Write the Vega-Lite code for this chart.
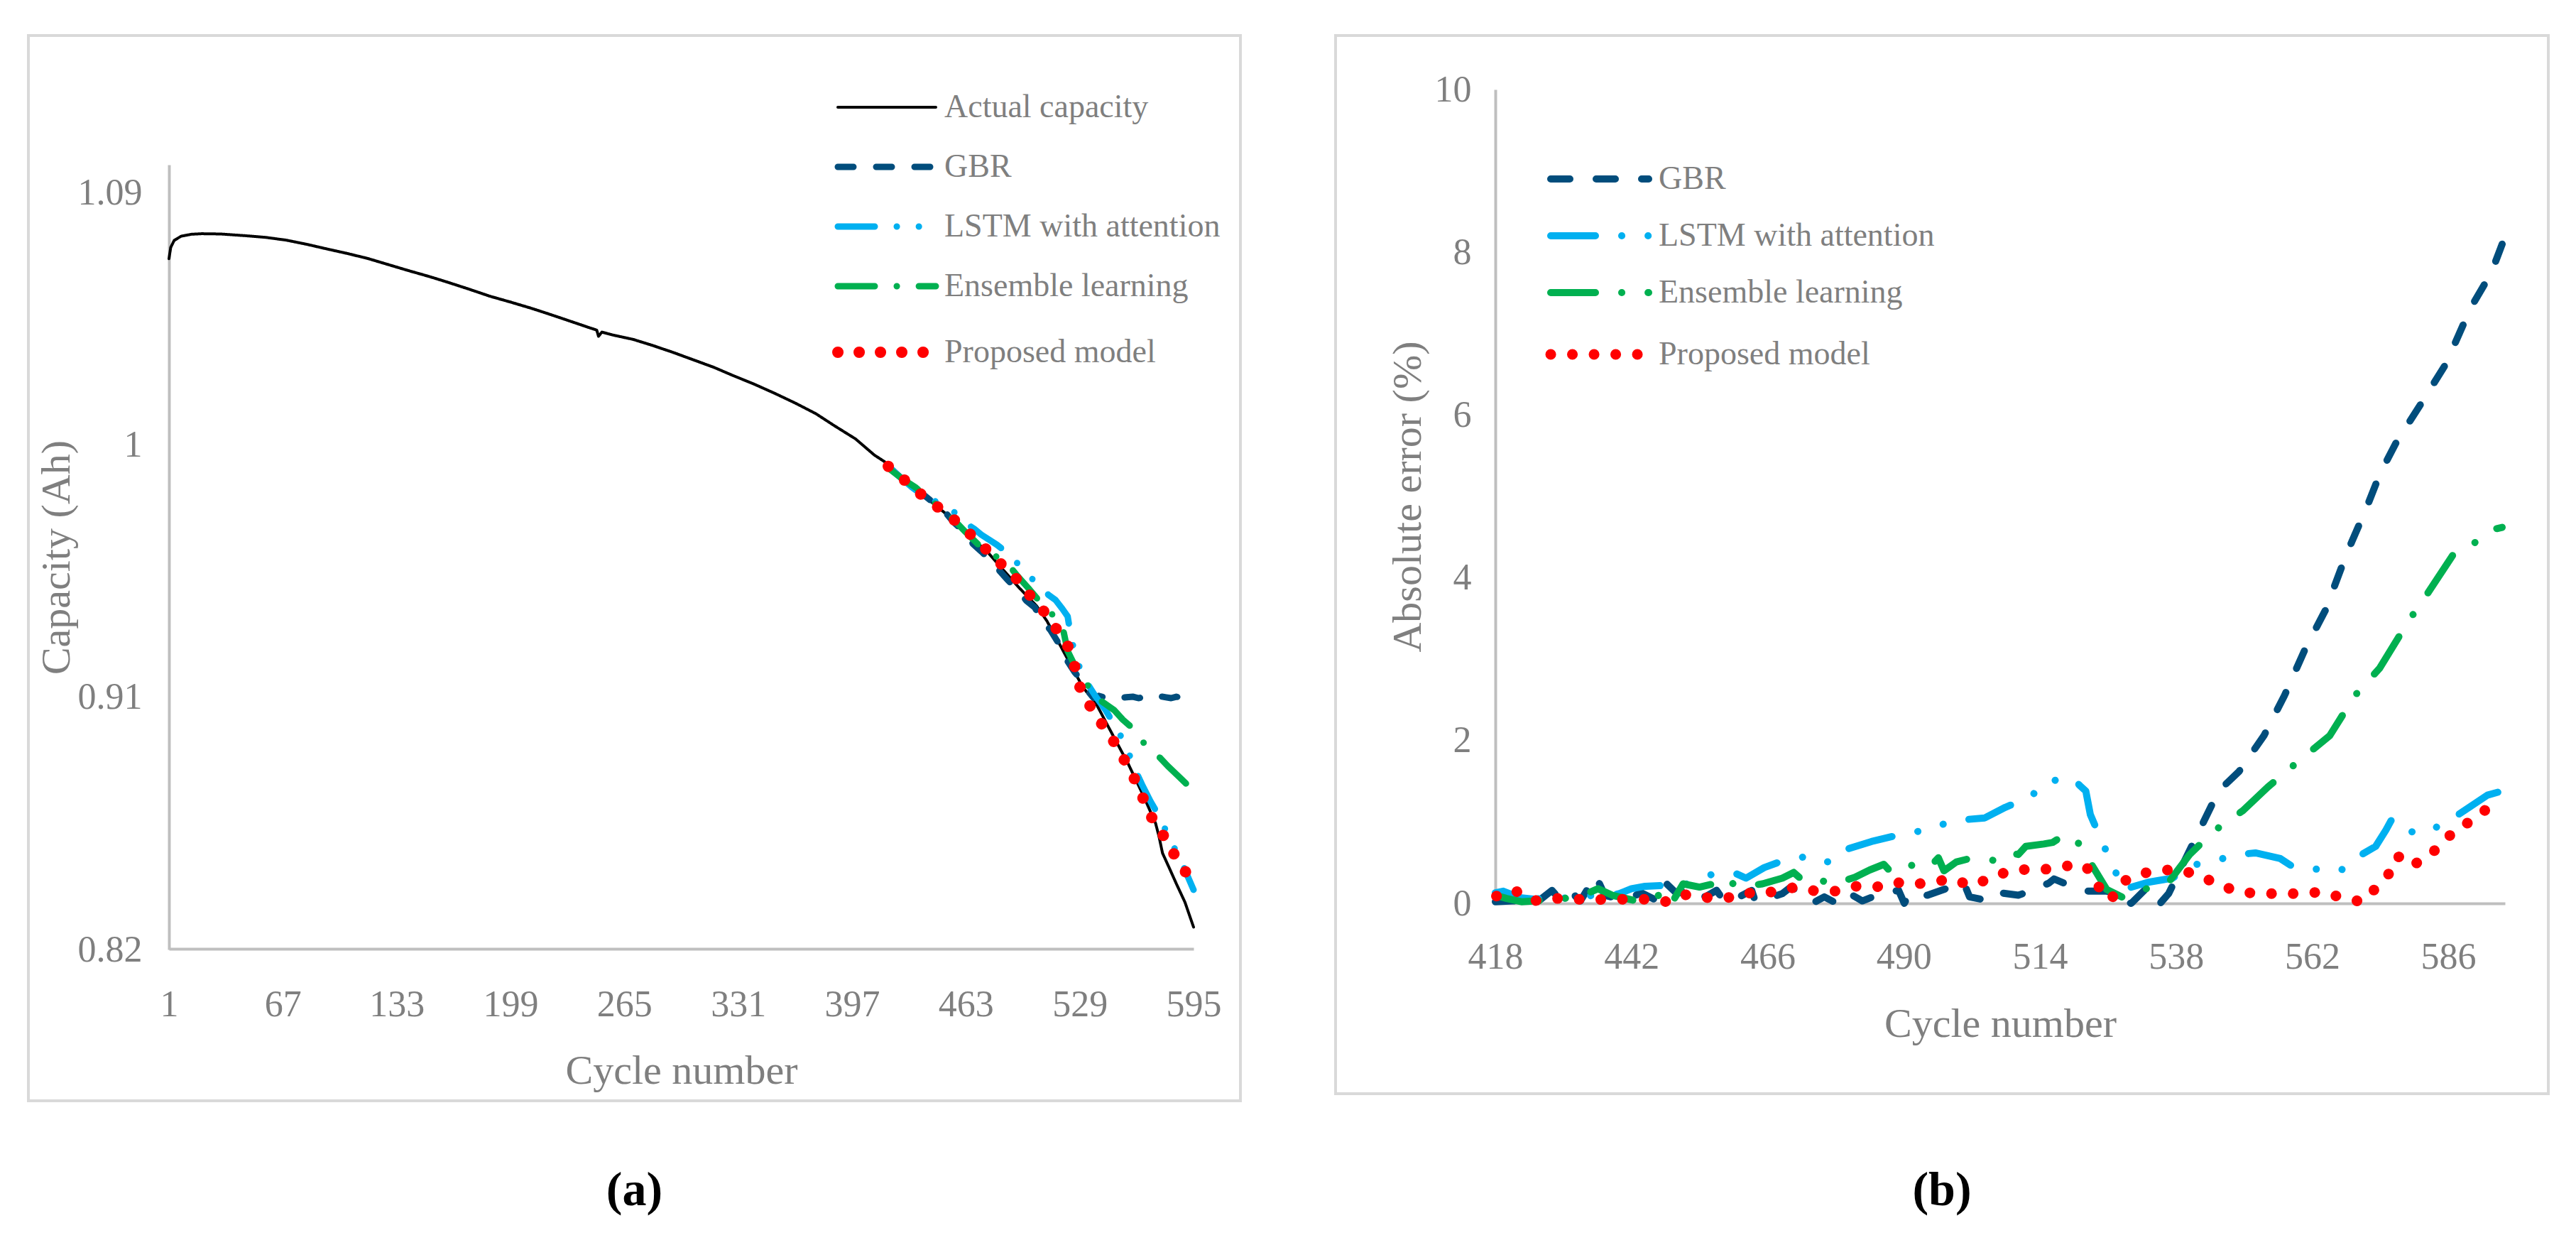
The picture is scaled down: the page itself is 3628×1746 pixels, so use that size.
{
  "$schema": "https://vega.github.io/schema/vega-lite/v6.json",
  "background": "white",
  "padding": {"left": 38, "top": 48, "right": 0, "bottom": 0},
  "config": {
    "font": "Liberation Serif",
    "view": {"stroke": "#d9d9d9", "strokeWidth": 4},
    "axis": {
      "grid": false, "ticks": false, "tickSize": 0,
      "domainColor": "#bfbfbf", "domainWidth": 4,
      "labelFont": "Liberation Serif", "labelFontSize": 52, "labelColor": "#7f7f7f",
      "titleFont": "Liberation Serif", "titleFontSize": 58, "titleColor": "#7f7f7f", "titleFontWeight": "normal"
    },
    "legend": {
      "orient": "none", "padding": 0, "symbolType": "stroke",
      "labelFont": "Liberation Serif", "labelFontSize": 46, "labelColor": "#7f7f7f", "labelLimit": 600
    },
    "title": {"font": "Liberation Serif", "fontSize": 68, "fontWeight": "bold", "color": "#000000"}
  },
  "datasets": {
    "capacity": [
      {"cycle": 1, "series": "Actual capacity", "capacity": 1.0665},
      {"cycle": 2, "series": "Actual capacity", "capacity": 1.0705},
      {"cycle": 4, "series": "Actual capacity", "capacity": 1.0730},
      {"cycle": 8, "series": "Actual capacity", "capacity": 1.0745},
      {"cycle": 14, "series": "Actual capacity", "capacity": 1.0752},
      {"cycle": 20, "series": "Actual capacity", "capacity": 1.0754},
      {"cycle": 31, "series": "Actual capacity", "capacity": 1.0753},
      {"cycle": 45, "series": "Actual capacity", "capacity": 1.0747},
      {"cycle": 57, "series": "Actual capacity", "capacity": 1.0741},
      {"cycle": 69, "series": "Actual capacity", "capacity": 1.0731},
      {"cycle": 81, "series": "Actual capacity", "capacity": 1.0716},
      {"cycle": 93, "series": "Actual capacity", "capacity": 1.0699},
      {"cycle": 104, "series": "Actual capacity", "capacity": 1.0684},
      {"cycle": 116, "series": "Actual capacity", "capacity": 1.0666},
      {"cycle": 128, "series": "Actual capacity", "capacity": 1.0644},
      {"cycle": 140, "series": "Actual capacity", "capacity": 1.0622},
      {"cycle": 152, "series": "Actual capacity", "capacity": 1.0601},
      {"cycle": 163, "series": "Actual capacity", "capacity": 1.0580},
      {"cycle": 175, "series": "Actual capacity", "capacity": 1.0556},
      {"cycle": 187, "series": "Actual capacity", "capacity": 1.0531},
      {"cycle": 199, "series": "Actual capacity", "capacity": 1.0510},
      {"cycle": 211, "series": "Actual capacity", "capacity": 1.0488},
      {"cycle": 222, "series": "Actual capacity", "capacity": 1.0466},
      {"cycle": 234, "series": "Actual capacity", "capacity": 1.0441},
      {"cycle": 245, "series": "Actual capacity", "capacity": 1.0418},
      {"cycle": 249, "series": "Actual capacity", "capacity": 1.0410},
      {"cycle": 250, "series": "Actual capacity", "capacity": 1.0388},
      {"cycle": 252, "series": "Actual capacity", "capacity": 1.0403},
      {"cycle": 258, "series": "Actual capacity", "capacity": 1.0393},
      {"cycle": 270, "series": "Actual capacity", "capacity": 1.0377},
      {"cycle": 281, "series": "Actual capacity", "capacity": 1.0356},
      {"cycle": 293, "series": "Actual capacity", "capacity": 1.0331},
      {"cycle": 305, "series": "Actual capacity", "capacity": 1.0304},
      {"cycle": 317, "series": "Actual capacity", "capacity": 1.0277},
      {"cycle": 328, "series": "Actual capacity", "capacity": 1.0248},
      {"cycle": 340, "series": "Actual capacity", "capacity": 1.0218},
      {"cycle": 352, "series": "Actual capacity", "capacity": 1.0185},
      {"cycle": 364, "series": "Actual capacity", "capacity": 1.0150},
      {"cycle": 376, "series": "Actual capacity", "capacity": 1.0112},
      {"cycle": 387, "series": "Actual capacity", "capacity": 1.0068},
      {"cycle": 399, "series": "Actual capacity", "capacity": 1.0022},
      {"cycle": 410, "series": "Actual capacity", "capacity": 0.9964},
      {"cycle": 416, "series": "Actual capacity", "capacity": 0.9940},
      {"cycle": 420, "series": "Actual capacity", "capacity": 0.9915},
      {"cycle": 430, "series": "Actual capacity", "capacity": 0.9862},
      {"cycle": 440, "series": "Actual capacity", "capacity": 0.9812},
      {"cycle": 450, "series": "Actual capacity", "capacity": 0.9762},
      {"cycle": 460, "series": "Actual capacity", "capacity": 0.9708},
      {"cycle": 467, "series": "Actual capacity", "capacity": 0.9666},
      {"cycle": 476, "series": "Actual capacity", "capacity": 0.9615},
      {"cycle": 485, "series": "Actual capacity", "capacity": 0.9552},
      {"cycle": 494, "series": "Actual capacity", "capacity": 0.9490},
      {"cycle": 504, "series": "Actual capacity", "capacity": 0.9426},
      {"cycle": 510, "series": "Actual capacity", "capacity": 0.9372},
      {"cycle": 515, "series": "Actual capacity", "capacity": 0.9316},
      {"cycle": 522, "series": "Actual capacity", "capacity": 0.9236},
      {"cycle": 531, "series": "Actual capacity", "capacity": 0.9134},
      {"cycle": 538, "series": "Actual capacity", "capacity": 0.9083},
      {"cycle": 548, "series": "Actual capacity", "capacity": 0.8967},
      {"cycle": 557, "series": "Actual capacity", "capacity": 0.8864},
      {"cycle": 566, "series": "Actual capacity", "capacity": 0.8748},
      {"cycle": 573, "series": "Actual capacity", "capacity": 0.8650},
      {"cycle": 575, "series": "Actual capacity", "capacity": 0.8602},
      {"cycle": 577, "series": "Actual capacity", "capacity": 0.8544},
      {"cycle": 581, "series": "Actual capacity", "capacity": 0.8490},
      {"cycle": 585, "series": "Actual capacity", "capacity": 0.8435},
      {"cycle": 590, "series": "Actual capacity", "capacity": 0.8369},
      {"cycle": 595, "series": "Actual capacity", "capacity": 0.8280},

      {"cycle": 418, "series": "GBR", "capacity": 0.9925},
      {"cycle": 425, "series": "GBR", "capacity": 0.9885},
      {"cycle": 432, "series": "GBR", "capacity": 0.9848},
      {"cycle": 437, "series": "GBR", "capacity": 0.9830},
      {"cycle": 444, "series": "GBR", "capacity": 0.9795},
      {"cycle": 450, "series": "GBR", "capacity": 0.9768},
      {"cycle": 456, "series": "GBR", "capacity": 0.9724},
      {"cycle": 462, "series": "GBR", "capacity": 0.9690},
      {"cycle": 467, "series": "GBR", "capacity": 0.9648},
      {"cycle": 472, "series": "GBR", "capacity": 0.9620},
      {"cycle": 477, "series": "GBR", "capacity": 0.9590},
      {"cycle": 482, "series": "GBR", "capacity": 0.9555},
      {"cycle": 487, "series": "GBR", "capacity": 0.9520},
      {"cycle": 492, "series": "GBR", "capacity": 0.9490},
      {"cycle": 498, "series": "GBR", "capacity": 0.9445},
      {"cycle": 503, "series": "GBR", "capacity": 0.9420},
      {"cycle": 507, "series": "GBR", "capacity": 0.9374},
      {"cycle": 512, "series": "GBR", "capacity": 0.9340},
      {"cycle": 516, "series": "GBR", "capacity": 0.9300},
      {"cycle": 519, "series": "GBR", "capacity": 0.9270},
      {"cycle": 522, "series": "GBR", "capacity": 0.9228},
      {"cycle": 526, "series": "GBR", "capacity": 0.9190},
      {"cycle": 530, "series": "GBR", "capacity": 0.9160},
      {"cycle": 534, "series": "GBR", "capacity": 0.9120},
      {"cycle": 537, "series": "GBR", "capacity": 0.9098},
      {"cycle": 540, "series": "GBR", "capacity": 0.9105},
      {"cycle": 543, "series": "GBR", "capacity": 0.9100},
      {"cycle": 545, "series": "GBR", "capacity": 0.9095},
      {"cycle": 548, "series": "GBR", "capacity": 0.9100},
      {"cycle": 552, "series": "GBR", "capacity": 0.9098},
      {"cycle": 556, "series": "GBR", "capacity": 0.9100},
      {"cycle": 560, "series": "GBR", "capacity": 0.9102},
      {"cycle": 563, "series": "GBR", "capacity": 0.9097},
      {"cycle": 566, "series": "GBR", "capacity": 0.9100},
      {"cycle": 570, "series": "GBR", "capacity": 0.9105},
      {"cycle": 573, "series": "GBR", "capacity": 0.9098},
      {"cycle": 576, "series": "GBR", "capacity": 0.9103},
      {"cycle": 579, "series": "GBR", "capacity": 0.9100},
      {"cycle": 582, "series": "GBR", "capacity": 0.9097},
      {"cycle": 585, "series": "GBR", "capacity": 0.9102},
      {"cycle": 588, "series": "GBR", "capacity": 0.9098},
      {"cycle": 591, "series": "GBR", "capacity": 0.9100},
      {"cycle": 595, "series": "GBR", "capacity": 0.9097},

      {"cycle": 418, "series": "LSTM with attention", "capacity": 0.9924},
      {"cycle": 425, "series": "LSTM with attention", "capacity": 0.9885},
      {"cycle": 432, "series": "LSTM with attention", "capacity": 0.9848},
      {"cycle": 438, "series": "LSTM with attention", "capacity": 0.9822},
      {"cycle": 444, "series": "LSTM with attention", "capacity": 0.9804},
      {"cycle": 450, "series": "LSTM with attention", "capacity": 0.9782},
      {"cycle": 455, "series": "LSTM with attention", "capacity": 0.9768},
      {"cycle": 460, "series": "LSTM with attention", "capacity": 0.9738},
      {"cycle": 463, "series": "LSTM with attention", "capacity": 0.9721},
      {"cycle": 468, "series": "LSTM with attention", "capacity": 0.9700},
      {"cycle": 472, "series": "LSTM with attention", "capacity": 0.9680},
      {"cycle": 477, "series": "LSTM with attention", "capacity": 0.9660},
      {"cycle": 481, "series": "LSTM with attention", "capacity": 0.9644},
      {"cycle": 486, "series": "LSTM with attention", "capacity": 0.9620},
      {"cycle": 490, "series": "LSTM with attention", "capacity": 0.9596},
      {"cycle": 495, "series": "LSTM with attention", "capacity": 0.9565},
      {"cycle": 499, "series": "LSTM with attention", "capacity": 0.9539},
      {"cycle": 503, "series": "LSTM with attention", "capacity": 0.9512},
      {"cycle": 507, "series": "LSTM with attention", "capacity": 0.9487},
      {"cycle": 511, "series": "LSTM with attention", "capacity": 0.9465},
      {"cycle": 515, "series": "LSTM with attention", "capacity": 0.9447},
      {"cycle": 519, "series": "LSTM with attention", "capacity": 0.9415},
      {"cycle": 522, "series": "LSTM with attention", "capacity": 0.9389},
      {"cycle": 524, "series": "LSTM with attention", "capacity": 0.9313},
      {"cycle": 527, "series": "LSTM with attention", "capacity": 0.9236},
      {"cycle": 532, "series": "LSTM with attention", "capacity": 0.9163},
      {"cycle": 538, "series": "LSTM with attention", "capacity": 0.9105},
      {"cycle": 544, "series": "LSTM with attention", "capacity": 0.9054},
      {"cycle": 550, "series": "LSTM with attention", "capacity": 0.8993},
      {"cycle": 556, "series": "LSTM with attention", "capacity": 0.8926},
      {"cycle": 560, "series": "LSTM with attention", "capacity": 0.8857},
      {"cycle": 565, "series": "LSTM with attention", "capacity": 0.8790},
      {"cycle": 570, "series": "LSTM with attention", "capacity": 0.8729},
      {"cycle": 576, "series": "LSTM with attention", "capacity": 0.8665},
      {"cycle": 581, "series": "LSTM with attention", "capacity": 0.8595},
      {"cycle": 587, "series": "LSTM with attention", "capacity": 0.8526},
      {"cycle": 591, "series": "LSTM with attention", "capacity": 0.8470},
      {"cycle": 595, "series": "LSTM with attention", "capacity": 0.8413},

      {"cycle": 418, "series": "Ensemble learning", "capacity": 0.9918},
      {"cycle": 426, "series": "Ensemble learning", "capacity": 0.9880},
      {"cycle": 434, "series": "Ensemble learning", "capacity": 0.9848},
      {"cycle": 440, "series": "Ensemble learning", "capacity": 0.9815},
      {"cycle": 447, "series": "Ensemble learning", "capacity": 0.9782},
      {"cycle": 454, "series": "Ensemble learning", "capacity": 0.9746},
      {"cycle": 462, "series": "Ensemble learning", "capacity": 0.9695},
      {"cycle": 470, "series": "Ensemble learning", "capacity": 0.9646},
      {"cycle": 478, "series": "Ensemble learning", "capacity": 0.9612},
      {"cycle": 487, "series": "Ensemble learning", "capacity": 0.9578},
      {"cycle": 493, "series": "Ensemble learning", "capacity": 0.9532},
      {"cycle": 500, "series": "Ensemble learning", "capacity": 0.9484},
      {"cycle": 506, "series": "Ensemble learning", "capacity": 0.9440},
      {"cycle": 513, "series": "Ensemble learning", "capacity": 0.9396},
      {"cycle": 519, "series": "Ensemble learning", "capacity": 0.9353},
      {"cycle": 522, "series": "Ensemble learning", "capacity": 0.9265},
      {"cycle": 526, "series": "Ensemble learning", "capacity": 0.9215},
      {"cycle": 531, "series": "Ensemble learning", "capacity": 0.9171},
      {"cycle": 537, "series": "Ensemble learning", "capacity": 0.9105},
      {"cycle": 543, "series": "Ensemble learning", "capacity": 0.9080},
      {"cycle": 549, "series": "Ensemble learning", "capacity": 0.9054},
      {"cycle": 554, "series": "Ensemble learning", "capacity": 0.9020},
      {"cycle": 560, "series": "Ensemble learning", "capacity": 0.8988},
      {"cycle": 567, "series": "Ensemble learning", "capacity": 0.8930},
      {"cycle": 574, "series": "Ensemble learning", "capacity": 0.8894},
      {"cycle": 580, "series": "Ensemble learning", "capacity": 0.8855},
      {"cycle": 587, "series": "Ensemble learning", "capacity": 0.8814},
      {"cycle": 591, "series": "Ensemble learning", "capacity": 0.8790},
      {"cycle": 595, "series": "Ensemble learning", "capacity": 0.8770},

      {"cycle": 418, "series": "Proposed model", "capacity": 0.9924},
      {"cycle": 427, "series": "Proposed model", "capacity": 0.9877},
      {"cycle": 436, "series": "Proposed model", "capacity": 0.9829},
      {"cycle": 446, "series": "Proposed model", "capacity": 0.9782},
      {"cycle": 456, "series": "Proposed model", "capacity": 0.9734},
      {"cycle": 465, "series": "Proposed model", "capacity": 0.9685},
      {"cycle": 474, "series": "Proposed model", "capacity": 0.9632},
      {"cycle": 483, "series": "Proposed model", "capacity": 0.9578},
      {"cycle": 492, "series": "Proposed model", "capacity": 0.9525},
      {"cycle": 500, "series": "Proposed model", "capacity": 0.9465},
      {"cycle": 508, "series": "Proposed model", "capacity": 0.9408},
      {"cycle": 515, "series": "Proposed model", "capacity": 0.9348},
      {"cycle": 522, "series": "Proposed model", "capacity": 0.9284},
      {"cycle": 526, "series": "Proposed model", "capacity": 0.9211},
      {"cycle": 529, "series": "Proposed model", "capacity": 0.9138},
      {"cycle": 535, "series": "Proposed model", "capacity": 0.9069},
      {"cycle": 542, "series": "Proposed model", "capacity": 0.9003},
      {"cycle": 549, "series": "Proposed model", "capacity": 0.8940},
      {"cycle": 555, "series": "Proposed model", "capacity": 0.8875},
      {"cycle": 561, "series": "Proposed model", "capacity": 0.8806},
      {"cycle": 566, "series": "Proposed model", "capacity": 0.8736},
      {"cycle": 571, "series": "Proposed model", "capacity": 0.8668},
      {"cycle": 578, "series": "Proposed model", "capacity": 0.8602},
      {"cycle": 584, "series": "Proposed model", "capacity": 0.8537},
      {"cycle": 591, "series": "Proposed model", "capacity": 0.8471},
      {"cycle": 595, "series": "Proposed model", "capacity": 0.8430}
    ],
    "error": [
      {"cycle": 418, "series": "GBR", "error": 0.02},
      {"cycle": 421, "series": "GBR", "error": 0.03},
      {"cycle": 424, "series": "GBR", "error": 0.04},
      {"cycle": 426, "series": "GBR", "error": 0.05},
      {"cycle": 428, "series": "GBR", "error": 0.16},
      {"cycle": 429.5, "series": "GBR", "error": 0.04},
      {"cycle": 431.5, "series": "GBR", "error": 0.13},
      {"cycle": 433, "series": "GBR", "error": 0.03},
      {"cycle": 435.7, "series": "GBR", "error": 0.34},
      {"cycle": 437.3, "series": "GBR", "error": 0.10},
      {"cycle": 439.5, "series": "GBR", "error": 0.06},
      {"cycle": 441.8, "series": "GBR", "error": 0.07},
      {"cycle": 443.7, "series": "GBR", "error": 0.13},
      {"cycle": 446.9, "series": "GBR", "error": 0.02},
      {"cycle": 448.2, "series": "GBR", "error": 0.24},
      {"cycle": 450, "series": "GBR", "error": 0.12},
      {"cycle": 453, "series": "GBR", "error": 0.19},
      {"cycle": 455, "series": "GBR", "error": 0.08},
      {"cycle": 457, "series": "GBR", "error": 0.16},
      {"cycle": 458.4, "series": "GBR", "error": 0.02},
      {"cycle": 461, "series": "GBR", "error": 0.08},
      {"cycle": 463.2, "series": "GBR", "error": 0.16},
      {"cycle": 463.8, "series": "GBR", "error": 0.03},
      {"cycle": 466, "series": "GBR", "error": 0.06},
      {"cycle": 468.6, "series": "GBR", "error": 0.12},
      {"cycle": 469.9, "series": "GBR", "error": 0.19},
      {"cycle": 472.8, "series": "GBR", "error": 0.13},
      {"cycle": 474.4, "series": "GBR", "error": 0.02},
      {"cycle": 476, "series": "GBR", "error": 0.08},
      {"cycle": 478.2, "series": "GBR", "error": 0.00},
      {"cycle": 480.2, "series": "GBR", "error": 0.13},
      {"cycle": 482.7, "series": "GBR", "error": 0.03},
      {"cycle": 485.3, "series": "GBR", "error": 0.10},
      {"cycle": 489.1, "series": "GBR", "error": 0.16},
      {"cycle": 490.1, "series": "GBR", "error": 0.00},
      {"cycle": 491, "series": "GBR", "error": 0.12},
      {"cycle": 494.2, "series": "GBR", "error": 0.10},
      {"cycle": 497.4, "series": "GBR", "error": 0.18},
      {"cycle": 500.6, "series": "GBR", "error": 0.25},
      {"cycle": 501.6, "series": "GBR", "error": 0.08},
      {"cycle": 505.1, "series": "GBR", "error": 0.03},
      {"cycle": 507, "series": "GBR", "error": 0.13},
      {"cycle": 510.2, "series": "GBR", "error": 0.10},
      {"cycle": 512.7, "series": "GBR", "error": 0.16},
      {"cycle": 515.6, "series": "GBR", "error": 0.25},
      {"cycle": 516.5, "series": "GBR", "error": 0.30},
      {"cycle": 519.9, "series": "GBR", "error": 0.20},
      {"cycle": 522, "series": "GBR", "error": 0.15},
      {"cycle": 525.8, "series": "GBR", "error": 0.15},
      {"cycle": 528, "series": "GBR", "error": 0.05},
      {"cycle": 530.1, "series": "GBR", "error": 0.00},
      {"cycle": 533, "series": "GBR", "error": 0.20},
      {"cycle": 535.2, "series": "GBR", "error": 0.00},
      {"cycle": 536.7, "series": "GBR", "error": 0.12},
      {"cycle": 540.4, "series": "GBR", "error": 0.65},
      {"cycle": 545.5, "series": "GBR", "error": 1.38},
      {"cycle": 549.1, "series": "GBR", "error": 1.62},
      {"cycle": 553.5, "series": "GBR", "error": 2.06},
      {"cycle": 557.1, "series": "GBR", "error": 2.55},
      {"cycle": 560.8, "series": "GBR", "error": 3.13},
      {"cycle": 564.4, "series": "GBR", "error": 3.61},
      {"cycle": 568.1, "series": "GBR", "error": 4.30},
      {"cycle": 571.7, "series": "GBR", "error": 4.88},
      {"cycle": 573.9, "series": "GBR", "error": 5.27},
      {"cycle": 576.8, "series": "GBR", "error": 5.66},
      {"cycle": 581.2, "series": "GBR", "error": 6.14},
      {"cycle": 585.6, "series": "GBR", "error": 6.63},
      {"cycle": 589.9, "series": "GBR", "error": 7.31},
      {"cycle": 593.6, "series": "GBR", "error": 7.75},
      {"cycle": 595.5, "series": "GBR", "error": 8.10},

      {"cycle": 418, "series": "LSTM with attention", "error": 0.13},
      {"cycle": 419.4, "series": "LSTM with attention", "error": 0.15},
      {"cycle": 422.3, "series": "LSTM with attention", "error": 0.07},
      {"cycle": 425, "series": "LSTM with attention", "error": 0.05},
      {"cycle": 428, "series": "LSTM with attention", "error": 0.08},
      {"cycle": 431, "series": "LSTM with attention", "error": 0.06},
      {"cycle": 434, "series": "LSTM with attention", "error": 0.10},
      {"cycle": 437, "series": "LSTM with attention", "error": 0.08},
      {"cycle": 439.9, "series": "LSTM with attention", "error": 0.12},
      {"cycle": 442, "series": "LSTM with attention", "error": 0.18},
      {"cycle": 444.4, "series": "LSTM with attention", "error": 0.21},
      {"cycle": 448, "series": "LSTM with attention", "error": 0.22},
      {"cycle": 452, "series": "LSTM with attention", "error": 0.24},
      {"cycle": 455.9, "series": "LSTM with attention", "error": 0.35},
      {"cycle": 458.4, "series": "LSTM with attention", "error": 0.38},
      {"cycle": 460.3, "series": "LSTM with attention", "error": 0.37},
      {"cycle": 462.2, "series": "LSTM with attention", "error": 0.31},
      {"cycle": 465.4, "series": "LSTM with attention", "error": 0.44},
      {"cycle": 469.3, "series": "LSTM with attention", "error": 0.54},
      {"cycle": 473.4, "series": "LSTM with attention", "error": 0.58},
      {"cycle": 475.7, "series": "LSTM with attention", "error": 0.51},
      {"cycle": 477.6, "series": "LSTM with attention", "error": 0.51},
      {"cycle": 480.2, "series": "LSTM with attention", "error": 0.67},
      {"cycle": 484.3, "series": "LSTM with attention", "error": 0.76},
      {"cycle": 488.5, "series": "LSTM with attention", "error": 0.83},
      {"cycle": 492.3, "series": "LSTM with attention", "error": 0.88},
      {"cycle": 494.8, "series": "LSTM with attention", "error": 0.93},
      {"cycle": 499.3, "series": "LSTM with attention", "error": 1.02},
      {"cycle": 504.3, "series": "LSTM with attention", "error": 1.05},
      {"cycle": 507.9, "series": "LSTM with attention", "error": 1.18},
      {"cycle": 512.1, "series": "LSTM with attention", "error": 1.30},
      {"cycle": 515.9, "series": "LSTM with attention", "error": 1.52},
      {"cycle": 518, "series": "LSTM with attention", "error": 1.50},
      {"cycle": 519.9, "series": "LSTM with attention", "error": 1.53},
      {"cycle": 521, "series": "LSTM with attention", "error": 1.45},
      {"cycle": 522.1, "series": "LSTM with attention", "error": 1.38},
      {"cycle": 522.9, "series": "LSTM with attention", "error": 1.09},
      {"cycle": 525, "series": "LSTM with attention", "error": 0.75},
      {"cycle": 527.2, "series": "LSTM with attention", "error": 0.41},
      {"cycle": 528.7, "series": "LSTM with attention", "error": 0.17},
      {"cycle": 533.1, "series": "LSTM with attention", "error": 0.26},
      {"cycle": 537.4, "series": "LSTM with attention", "error": 0.31},
      {"cycle": 540.4, "series": "LSTM with attention", "error": 0.46},
      {"cycle": 546.2, "series": "LSTM with attention", "error": 0.55},
      {"cycle": 549, "series": "LSTM with attention", "error": 0.60},
      {"cycle": 552, "series": "LSTM with attention", "error": 0.62},
      {"cycle": 556.4, "series": "LSTM with attention", "error": 0.55},
      {"cycle": 558.6, "series": "LSTM with attention", "error": 0.45},
      {"cycle": 562, "series": "LSTM with attention", "error": 0.42},
      {"cycle": 565, "series": "LSTM with attention", "error": 0.42},
      {"cycle": 567, "series": "LSTM with attention", "error": 0.40},
      {"cycle": 569.5, "series": "LSTM with attention", "error": 0.55},
      {"cycle": 573.2, "series": "LSTM with attention", "error": 0.70},
      {"cycle": 575, "series": "LSTM with attention", "error": 0.90},
      {"cycle": 576.1, "series": "LSTM with attention", "error": 1.04},
      {"cycle": 577.5, "series": "LSTM with attention", "error": 0.95},
      {"cycle": 579, "series": "LSTM with attention", "error": 0.89},
      {"cycle": 581.2, "series": "LSTM with attention", "error": 0.85},
      {"cycle": 585.6, "series": "LSTM with attention", "error": 0.99},
      {"cycle": 589.9, "series": "LSTM with attention", "error": 1.19},
      {"cycle": 592.9, "series": "LSTM with attention", "error": 1.33},
      {"cycle": 595.5, "series": "LSTM with attention", "error": 1.38},

      {"cycle": 418, "series": "Ensemble learning", "error": 0.10},
      {"cycle": 420, "series": "Ensemble learning", "error": 0.06},
      {"cycle": 422.6, "series": "Ensemble learning", "error": 0.02},
      {"cycle": 425, "series": "Ensemble learning", "error": 0.03},
      {"cycle": 429.3, "series": "Ensemble learning", "error": 0.05},
      {"cycle": 433.5, "series": "Ensemble learning", "error": 0.10},
      {"cycle": 436.1, "series": "Ensemble learning", "error": 0.18},
      {"cycle": 438.6, "series": "Ensemble learning", "error": 0.10},
      {"cycle": 442.8, "series": "Ensemble learning", "error": 0.03},
      {"cycle": 446.9, "series": "Ensemble learning", "error": 0.10},
      {"cycle": 448.2, "series": "Ensemble learning", "error": 0.19},
      {"cycle": 449.5, "series": "Ensemble learning", "error": 0.05},
      {"cycle": 451.1, "series": "Ensemble learning", "error": 0.24},
      {"cycle": 454, "series": "Ensemble learning", "error": 0.20},
      {"cycle": 456.5, "series": "Ensemble learning", "error": 0.24},
      {"cycle": 457.1, "series": "Ensemble learning", "error": 0.29},
      {"cycle": 458.4, "series": "Ensemble learning", "error": 0.22},
      {"cycle": 460.3, "series": "Ensemble learning", "error": 0.25},
      {"cycle": 462.2, "series": "Ensemble learning", "error": 0.21},
      {"cycle": 465.1, "series": "Ensemble learning", "error": 0.24},
      {"cycle": 468.6, "series": "Ensemble learning", "error": 0.31},
      {"cycle": 470.6, "series": "Ensemble learning", "error": 0.38},
      {"cycle": 472.2, "series": "Ensemble learning", "error": 0.28},
      {"cycle": 473.8, "series": "Ensemble learning", "error": 0.31},
      {"cycle": 477.6, "series": "Ensemble learning", "error": 0.24},
      {"cycle": 481.4, "series": "Ensemble learning", "error": 0.32},
      {"cycle": 484, "series": "Ensemble learning", "error": 0.41},
      {"cycle": 486.5, "series": "Ensemble learning", "error": 0.48},
      {"cycle": 487.8, "series": "Ensemble learning", "error": 0.38},
      {"cycle": 491, "series": "Ensemble learning", "error": 0.47},
      {"cycle": 494.5, "series": "Ensemble learning", "error": 0.44},
      {"cycle": 496.1, "series": "Ensemble learning", "error": 0.56},
      {"cycle": 497.1, "series": "Ensemble learning", "error": 0.40},
      {"cycle": 499.3, "series": "Ensemble learning", "error": 0.51},
      {"cycle": 501.6, "series": "Ensemble learning", "error": 0.55},
      {"cycle": 505.7, "series": "Ensemble learning", "error": 0.53},
      {"cycle": 508.3, "series": "Ensemble learning", "error": 0.63},
      {"cycle": 510.2, "series": "Ensemble learning", "error": 0.60},
      {"cycle": 511.5, "series": "Ensemble learning", "error": 0.70},
      {"cycle": 514.7, "series": "Ensemble learning", "error": 0.73},
      {"cycle": 516.3, "series": "Ensemble learning", "error": 0.75},
      {"cycle": 518.5, "series": "Ensemble learning", "error": 0.85},
      {"cycle": 520.7, "series": "Ensemble learning", "error": 0.75},
      {"cycle": 522.9, "series": "Ensemble learning", "error": 0.50},
      {"cycle": 525.8, "series": "Ensemble learning", "error": 0.17},
      {"cycle": 528.7, "series": "Ensemble learning", "error": 0.07},
      {"cycle": 532.3, "series": "Ensemble learning", "error": 0.17},
      {"cycle": 536.7, "series": "Ensemble learning", "error": 0.26},
      {"cycle": 540.4, "series": "Ensemble learning", "error": 0.60},
      {"cycle": 544.7, "series": "Ensemble learning", "error": 0.89},
      {"cycle": 549.8, "series": "Ensemble learning", "error": 1.14},
      {"cycle": 554.2, "series": "Ensemble learning", "error": 1.43},
      {"cycle": 560, "series": "Ensemble learning", "error": 1.77},
      {"cycle": 565.1, "series": "Ensemble learning", "error": 2.06},
      {"cycle": 569.5, "series": "Ensemble learning", "error": 2.55},
      {"cycle": 573.9, "series": "Ensemble learning", "error": 2.89},
      {"cycle": 579, "series": "Ensemble learning", "error": 3.47},
      {"cycle": 581.9, "series": "Ensemble learning", "error": 3.76},
      {"cycle": 587, "series": "Ensemble learning", "error": 4.30},
      {"cycle": 589.9, "series": "Ensemble learning", "error": 4.39},
      {"cycle": 593.6, "series": "Ensemble learning", "error": 4.59},
      {"cycle": 595.5, "series": "Ensemble learning", "error": 4.62},

      {"cycle": 418.2, "series": "Proposed model", "error": 0.09},
      {"cycle": 421.4, "series": "Proposed model", "error": 0.16},
      {"cycle": 424.6, "series": "Proposed model", "error": 0.03},
      {"cycle": 427.6, "series": "Proposed model", "error": 0.06},
      {"cycle": 430.9, "series": "Proposed model", "error": 0.06},
      {"cycle": 434.5, "series": "Proposed model", "error": 0.04},
      {"cycle": 437.3, "series": "Proposed model", "error": 0.05},
      {"cycle": 440.7, "series": "Proposed model", "error": 0.05},
      {"cycle": 444.4, "series": "Proposed model", "error": 0.05},
      {"cycle": 447.9, "series": "Proposed model", "error": 0.02},
      {"cycle": 451.1, "series": "Proposed model", "error": 0.11},
      {"cycle": 453.9, "series": "Proposed model", "error": 0.08},
      {"cycle": 457.1, "series": "Proposed model", "error": 0.06},
      {"cycle": 460.3, "series": "Proposed model", "error": 0.08},
      {"cycle": 462.3, "series": "Proposed model", "error": 0.13},
      {"cycle": 465.1, "series": "Proposed model", "error": 0.11},
      {"cycle": 468.1, "series": "Proposed model", "error": 0.17},
      {"cycle": 471.3, "series": "Proposed model", "error": 0.20},
      {"cycle": 474.5, "series": "Proposed model", "error": 0.15},
      {"cycle": 477.9, "series": "Proposed model", "error": 0.15},
      {"cycle": 481.6, "series": "Proposed model", "error": 0.21},
      {"cycle": 485.1, "series": "Proposed model", "error": 0.20},
      {"cycle": 488.5, "series": "Proposed model", "error": 0.26},
      {"cycle": 491.3, "series": "Proposed model", "error": 0.23},
      {"cycle": 494.8, "series": "Proposed model", "error": 0.26},
      {"cycle": 498.4, "series": "Proposed model", "error": 0.30},
      {"cycle": 501.9, "series": "Proposed model", "error": 0.22},
      {"cycle": 505.4, "series": "Proposed model", "error": 0.31},
      {"cycle": 508.6, "series": "Proposed model", "error": 0.40},
      {"cycle": 512.1, "series": "Proposed model", "error": 0.42},
      {"cycle": 515.6, "series": "Proposed model", "error": 0.42},
      {"cycle": 518.5, "series": "Proposed model", "error": 0.46},
      {"cycle": 522.1, "series": "Proposed model", "error": 0.46},
      {"cycle": 524.3, "series": "Proposed model", "error": 0.21},
      {"cycle": 526.5, "series": "Proposed model", "error": 0.04},
      {"cycle": 528.4, "series": "Proposed model", "error": 0.26},
      {"cycle": 531.6, "series": "Proposed model", "error": 0.36},
      {"cycle": 535.2, "series": "Proposed model", "error": 0.41},
      {"cycle": 538.9, "series": "Proposed model", "error": 0.41},
      {"cycle": 542.5, "series": "Proposed model", "error": 0.33},
      {"cycle": 545.5, "series": "Proposed model", "error": 0.23},
      {"cycle": 549.1, "series": "Proposed model", "error": 0.14},
      {"cycle": 552.7, "series": "Proposed model", "error": 0.12},
      {"cycle": 556.4, "series": "Proposed model", "error": 0.12},
      {"cycle": 560, "series": "Proposed model", "error": 0.12},
      {"cycle": 563.7, "series": "Proposed model", "error": 0.14},
      {"cycle": 567.3, "series": "Proposed model", "error": 0.07},
      {"cycle": 570.7, "series": "Proposed model", "error": 0.02},
      {"cycle": 573.6, "series": "Proposed model", "error": 0.21},
      {"cycle": 576.1, "series": "Proposed model", "error": 0.41},
      {"cycle": 577.1, "series": "Proposed model", "error": 0.58},
      {"cycle": 579.4, "series": "Proposed model", "error": 0.46},
      {"cycle": 581.9, "series": "Proposed model", "error": 0.55},
      {"cycle": 584.8, "series": "Proposed model", "error": 0.72},
      {"cycle": 587, "series": "Proposed model", "error": 0.89},
      {"cycle": 590.7, "series": "Proposed model", "error": 1.04},
      {"cycle": 593.6, "series": "Proposed model", "error": 1.21},
      {"cycle": 595.5, "series": "Proposed model", "error": 1.25}
    ]
  },
  "spacing": 134,
  "bounds": "flush",
  "resolve": {
    "scale": {"x": "independent", "y": "independent", "color": "independent", "strokeDash": "independent"},
    "legend": {"color": "independent", "strokeDash": "independent"}
  },
  "hconcat": [
    {
      "width": 1707,
      "height": 1500,
      "data": {"name": "capacity"},
      "title": {"text": "(a)", "orient": "bottom", "anchor": "middle", "baseline": "middle", "offset": 127},
      "mark": {"type": "line", "strokeCap": "round", "strokeJoin": "round"},
      "encoding": {
        "x": {
          "field": "cycle", "type": "quantitative",
          "scale": {"domain": [1, 595], "range": [198, 1641], "nice": false, "zero": false},
          "axis": {
            "title": "Cycle number", "values": [1, 67, 133, 199, 265, 331, 397, 463, 529, 595], "format": "d",
            "offset": -214, "labelPadding": 78, "labelBaseline": "middle", "labelFlush": false, "labelOverlap": false,
            "titleY": 172, "titleBaseline": "middle"
          }
        },
        "y": {
          "field": "capacity", "type": "quantitative",
          "scale": {"domain": [0.82, 1.1], "range": [1287, 182], "nice": false, "zero": false},
          "axis": {
            "title": "Capacity (Ah)", "values": [0.82, 0.91, 1, 1.09], "format": "~g",
            "offset": -198, "labelPadding": 38, "labelOverlap": false,
            "titleX": -158, "titleBaseline": "middle", "titleAngle": -90
          }
        },
        "color": {
          "field": "series", "type": "nominal",
          "scale": {
            "domain": ["Actual capacity", "GBR", "LSTM with attention", "Ensemble learning", "Proposed model"],
            "range": ["#000000", "#014d7c", "#00b0f0", "#00b050", "#ff0000"]
          },
          "legend": {
            "title": null, "legendX": 1140, "legendY": 78, "symbolSize": 19044, "symbolOffset": 46, "labelOffset": 58, "rowPadding": 38,
            "encode": {"symbols": {"update": {
              "strokeCap": {"value": "round"},
              "strokeWidth": {"signal": "datum.value === 'Proposed model' ? 16 : datum.value === 'Actual capacity' ? 4 : 9"}
            }}}
          }
        },
        "strokeDash": {
          "field": "series", "type": "nominal",
          "scale": {
            "domain": ["Actual capacity", "GBR", "LSTM with attention", "Ensemble learning", "Proposed model"],
            "range": [[1, 0], [22, 32], [52, 31, 0.1, 31, 0.1, 31], [52, 31, 0.1, 31], [0.1, 29.9]]
          },
          "legend": {
            "title": null, "legendX": 1140, "legendY": 78, "symbolSize": 19044, "symbolOffset": 46, "labelOffset": 58, "rowPadding": 38,
            "encode": {"symbols": {"update": {
              "strokeCap": {"value": "round"},
              "strokeWidth": {"signal": "datum.value === 'Proposed model' ? 16 : datum.value === 'Actual capacity' ? 4 : 9"}
            }}}
          }
        },
        "strokeWidth": {
          "condition": [
            {"test": "datum.series === 'Actual capacity'", "value": 4},
            {"test": "datum.series === 'Proposed model'", "value": 16}
          ],
          "value": 9
        }
      }
    },
    {
      "width": 1708,
      "height": 1490,
      "data": {"name": "error"},
      "title": {"text": "(b)", "orient": "bottom", "anchor": "middle", "baseline": "middle", "offset": 137},
      "mark": {"type": "line", "strokeCap": "round", "strokeJoin": "round"},
      "encoding": {
        "x": {
          "field": "cycle", "type": "quantitative",
          "scale": {"domain": [418, 596], "range": [225, 1647], "nice": false, "zero": false},
          "axis": {
            "title": "Cycle number", "values": [418, 442, 466, 490, 514, 538, 562, 586], "format": "d",
            "offset": -268, "labelPadding": 75, "labelBaseline": "middle", "labelFlush": false, "labelOverlap": false,
            "titleY": 170, "titleBaseline": "middle"
          }
        },
        "y": {
          "field": "error", "type": "quantitative",
          "scale": {"domain": [0, 10], "range": [1222, 76], "nice": false, "zero": false},
          "axis": {
            "title": "Absolute error (%)", "values": [0, 2, 4, 6, 8, 10], "format": "d",
            "offset": -225, "labelPadding": 34, "labelOverlap": false,
            "titleX": -123, "titleBaseline": "middle", "titleAngle": -90
          }
        },
        "color": {
          "field": "series", "type": "nominal",
          "scale": {
            "domain": ["GBR", "LSTM with attention", "Ensemble learning", "Proposed model"],
            "range": ["#014d7c", "#00b0f0", "#00b050", "#ff0000"]
          },
          "legend": {
            "title": null, "legendX": 303, "legendY": 179, "symbolSize": 19044, "symbolOffset": 46, "labelOffset": 60, "rowPadding": 34,
            "encode": {"symbols": {"update": {
              "strokeCap": {"value": "round"},
              "strokeWidth": {"signal": "datum.value === 'Proposed model' ? 15 : 10"}
            }}}
          }
        },
        "strokeDash": {
          "field": "series", "type": "nominal",
          "scale": {
            "domain": ["GBR", "LSTM with attention", "Ensemble learning", "Proposed model"],
            "range": [[27, 37], [63, 37, 0.1, 37, 0.1, 37], [63, 37, 0.1, 37], [0.1, 30.4]]
          },
          "legend": {
            "title": null, "legendX": 303, "legendY": 179, "symbolSize": 19044, "symbolOffset": 46, "labelOffset": 60, "rowPadding": 34,
            "encode": {"symbols": {"update": {
              "strokeCap": {"value": "round"},
              "strokeWidth": {"signal": "datum.value === 'Proposed model' ? 15 : 10"}
            }}}
          }
        },
        "strokeWidth": {
          "condition": {"test": "datum.series === 'Proposed model'", "value": 15},
          "value": 10
        }
      }
    }
  ]
}
